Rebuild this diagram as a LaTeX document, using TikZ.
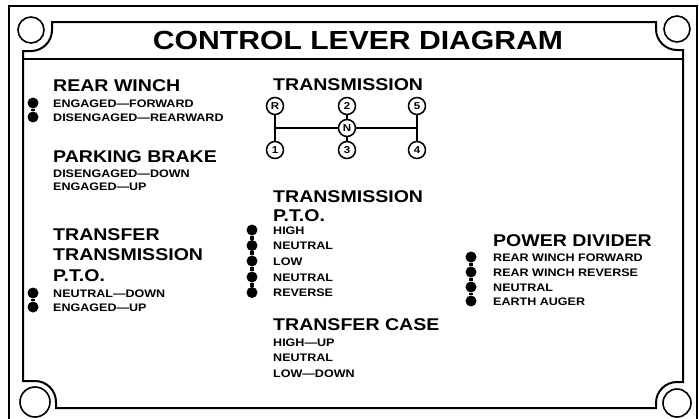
\documentclass[tikz,border=0pt]{standalone}
\usepackage{fontspec}
\newfontfamily\plate{Liberation Sans}[FakeStretch=1.15, Ligatures=TeX]
\tikzset{
  frame/.style={line width=2},
  titletext/.style={font=\plate\bfseries\fontsize{26.2}{30}\selectfont, anchor=base, inner sep=0},
  head/.style={font=\plate\bfseries\fontsize{17}{20}\selectfont, anchor=base west, inner sep=0},
  item/.style={font=\plate\bfseries\fontsize{10.9}{12}\selectfont, anchor=base west, inner sep=0},
  dot/.style={circle, fill=black, inner sep=0, minimum size=11},
  link/.style={line width=3.5},
  gear/.style={circle, draw, line width=1.5, fill=white, inner sep=0, minimum size=17,
    font=\plate\bfseries\fontsize{10}{10}\selectfont},
  gate/.style={line width=1.4},
  hole/.style={line width=1.6}
}
\begin{document}
\begin{tikzpicture}[x=1pt,y=-1pt]
\useasboundingbox (0,0) rectangle (699,418);
% outer plate edge
\draw[frame] (9,419) -- (9,6) -- (697,6) -- (697,419);
% inner frame with corner notches
\draw[frame] (23,51) -- (31,51) arc[start angle=90, end angle=0, radius=21]
  -- (52,22) -- (656,22) -- (656,29) arc[start angle=180, end angle=90, radius=21]
  -- (683,50) -- (683,382) -- (677,382) arc[start angle=270, end angle=180, radius=21]
  -- (656,408) -- (56,408) -- (56,402) arc[start angle=0, end angle=-90, radius=21]
  -- (23,381) -- cycle;
% title band line
\draw[frame] (23,59) -- (683,59);
% mounting holes
\draw[hole] (31,30) circle[radius=13];
\draw[hole] (677,29) circle[radius=13];
\draw[hole] (35,402) circle[radius=15];
\draw[hole] (677,403) circle[radius=14];

% title
\node[titletext] (title) at (358,49) {CONTROL LEVER DIAGRAM};

% rear winch
\node[head] (rw) at (53,91) {REAR WINCH};
\node[item] (rw1) at (53,107.5) {ENGAGED—FORWARD};
\node[item] (rw2) at (53,121) {DISENGAGED—REARWARD};
\node[dot] (rwd1) at (33,103) {};
\node[dot] (rwd2) at (33,117) {};
\draw[link] (rwd1) -- (rwd2);

% parking brake
\node[head] (pb) at (53,162) {PARKING BRAKE};
\node[item] (pb1) at (53,177) {DISENGAGED—DOWN};
\node[item] (pb2) at (53,190) {ENGAGED—UP};

% transfer transmission pto
\node[head] (tt1) at (53,240) {TRANSFER};
\node[head] (tt2) at (53,260) {TRANSMISSION};
\node[head] (tt3) at (53,281) {P.T.O.};
\node[item] (tti1) at (53,297) {NEUTRAL—DOWN};
\node[item] (tti2) at (53,311) {ENGAGED—UP};
\node[dot] (ttd1) at (33,293) {};
\node[dot] (ttd2) at (33,307) {};
\draw[link] (ttd1) -- (ttd2);

% transmission shift pattern
\node[head] (tr) at (273,90) {TRANSMISSION};
\coordinate (jl) at (275,128);
\coordinate (jr) at (417,128);
\coordinate (tR) at (275,106);
\coordinate (t1) at (275,150);
\coordinate (t5) at (417,106);
\coordinate (t4) at (417,150);
\coordinate (t2) at (347,106);
\coordinate (t3) at (347,150);
\draw[gate] (tR) -- (t1);
\draw[gate] (t5) -- (t4);
\draw[gate] (t2) -- (t3);
\draw[gate] (jl) -- (jr);
\node[gear] (gR) at (tR) {R};
\node[gear] (g2) at (t2) {2};
\node[gear] (g5) at (t5) {5};
\node[gear] (gN) at (347,128) {N};
\node[gear] (g1) at (t1) {1};
\node[gear] (g3) at (t3) {3};
\node[gear] (g4) at (t4) {4};

% transmission pto
\node[head] (tp1) at (273,202) {TRANSMISSION};
\node[head] (tp2) at (273,221) {P.T.O.};
\node[item] (tpi1) at (273,234) {HIGH};
\node[item] (tpi2) at (273,249.5) {NEUTRAL};
\node[item] (tpi3) at (273,265) {LOW};
\node[item] (tpi4) at (273,281) {NEUTRAL};
\node[item] (tpi5) at (273,296.5) {REVERSE};
\node[dot] (tpd1) at (252,230) {};
\node[dot] (tpd2) at (252,245.5) {};
\node[dot] (tpd3) at (252,261) {};
\node[dot] (tpd4) at (252,277) {};
\node[dot] (tpd5) at (252,292.5) {};
\draw[link] (tpd1) -- (tpd2) -- (tpd3) -- (tpd4) -- (tpd5);

% transfer case
\node[head] (tc) at (273,330) {TRANSFER CASE};
\node[item] (tc1) at (273,346) {HIGH—UP};
\node[item] (tc2) at (273,361.5) {NEUTRAL};
\node[item] (tc3) at (273,377) {LOW—DOWN};

% power divider
\node[head] (pd) at (493,246) {POWER DIVIDER};
\node[item] (pd1) at (493,261) {REAR WINCH FORWARD};
\node[item] (pd2) at (493,276) {REAR WINCH REVERSE};
\node[item] (pd3) at (493,291) {NEUTRAL};
\node[item] (pd4) at (493,305) {EARTH AUGER};
\node[dot] (pdd1) at (471,257) {};
\node[dot] (pdd2) at (471,272) {};
\node[dot] (pdd3) at (471,287) {};
\node[dot] (pdd4) at (471,301) {};
\draw[link] (pdd1) -- (pdd2) -- (pdd3) -- (pdd4);
\end{tikzpicture}
\end{document}
